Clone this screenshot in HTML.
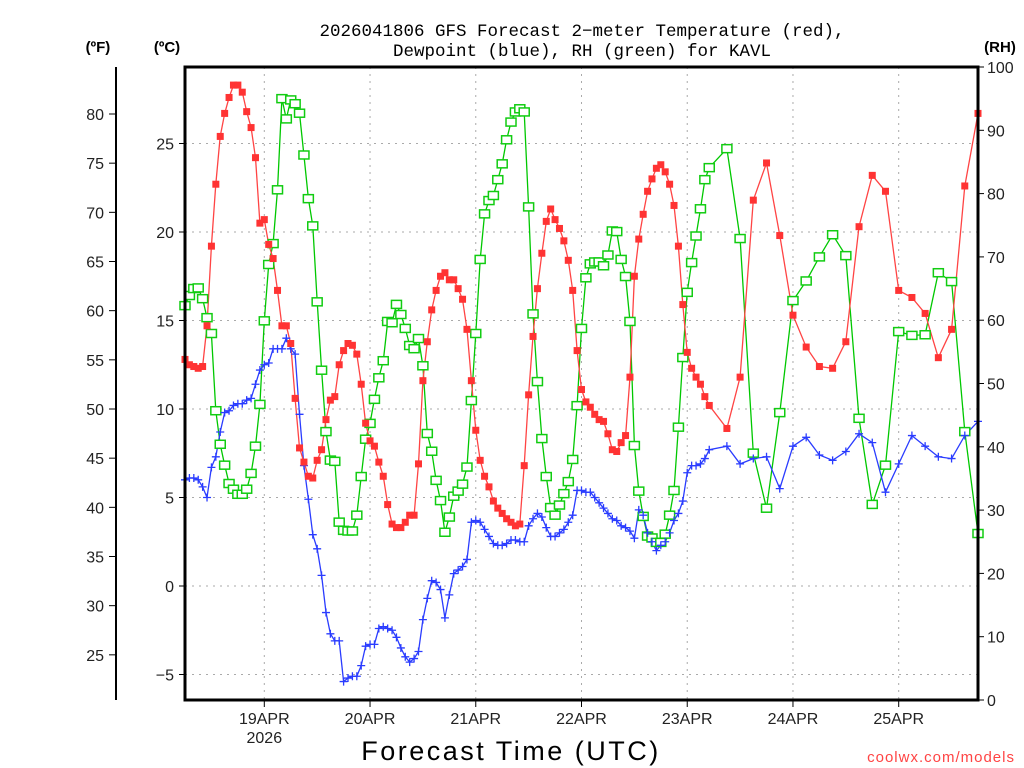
<!DOCTYPE html>
<html><head><meta charset="utf-8"><style>
html,body{margin:0;padding:0;background:#fff;width:1024px;height:768px;overflow:hidden}
svg text{font-family:"Liberation Sans",sans-serif}
</style></head><body>
<svg id="chart" width="1024" height="768" viewBox="0 0 1024 768" xmlns="http://www.w3.org/2000/svg">
<rect width="1024" height="768" fill="#fff"/>
<g id="grid"></g>
<g id="series"></g>
<g id="axes"></g>
<text x="582" y="36" font-size="17.5" text-anchor="middle" style="font-family:'Liberation Mono',monospace">2026041806 GFS Forecast 2−meter Temperature (red),</text>
<text x="582" y="56" font-size="17.5" text-anchor="middle" style="font-family:'Liberation Mono',monospace">Dewpoint (blue), RH (green) for KAVL</text>
<text x="98" y="52" font-size="15" font-weight="bold" text-anchor="middle">(ºF)</text>
<text x="167" y="52" font-size="15" font-weight="bold" text-anchor="middle">(ºC)</text>
<text x="1000" y="52" font-size="15" font-weight="bold" text-anchor="middle">(RH)</text>
<text x="511" y="760" font-size="27" text-anchor="middle" letter-spacing="2.5">Forecast Time (UTC)</text>
<text x="1015" y="762" font-size="15" fill="#f44" text-anchor="end" letter-spacing="1">coolwx.com/models</text>
</svg>
<script>
// hourly forecast hours 0..119 then 3-hourly 123..180 (hour 0 = 18Z 18APR)
const hours=[];for(let h=0;h<120;h++)hours.push(h);for(let h=123;h<=180;h+=3)hours.push(h);
const tempC=[12.8,12.5,12.4,12.3,12.4,14.7,19.2,22.7,25.4,26.7,27.6,28.3,28.3,27.9,26.8,25.9,24.2,20.5,20.7,19.3,18.5,16.7,14.7,14.7,13.7,10.6,7.8,7.0,6.2,6.1,7.1,7.7,9.4,10.5,10.7,12.5,13.3,13.7,13.6,13.1,11.4,9.2,8.2,7.9,7.0,6.2,4.6,
3.5,3.3,3.3,3.6,4.0,4.0,6.9,11.6,13.8,15.6,16.7,17.5,17.7,17.3,17.3,16.8,16.2,14.5,11.6,8.8,7.1,6.2,5.6,4.8,4.4,4.1,3.8,3.6,3.4,3.5,6.8,10.8,14.1,16.8,18.8,20.6,21.3,20.7,20.2,19.5,18.4,16.7,13.3,11.1,10.4,
10.1,9.7,9.4,9.3,8.6,7.7,7.6,8.1,8.5,11.8,17.5,19.6,21.0,22.3,23.0,23.6,23.8,23.4,22.7,21.5,19.2,15.9,13.2,12.3,11.8,11.4,10.7,10.2,
8.9,11.8,21.8,23.9,19.8,15.3,13.5,12.4,12.3,13.8,20.3,23.2,22.3,16.7,16.3,15.4,12.9,14.5,22.6,26.7];
const dewC=[6.0,6.1,6.1,6.0,5.6,5.0,6.7,7.3,8.7,9.8,9.9,10.2,10.3,10.3,10.5,10.6,11.4,12.2,12.5,12.6,13.4,13.4,13.4,14.0,13.4,13.1,9.7,6.8,4.9,2.9,2.1,0.6,-1.5,-2.7,-3.1,-3.1,-5.4,-5.2,-5.1,-5.1,-4.5,-3.4,-3.3,-3.3,-2.4,-2.3,-2.4,
-2.5,-2.9,-3.5,-4.0,-4.3,-4.1,-3.7,-1.9,-0.7,0.3,0.2,-0.2,-1.8,-0.5,0.7,0.9,1.1,1.5,3.6,3.7,3.6,3.2,2.8,2.4,2.3,2.3,2.4,2.6,2.6,2.5,2.5,3.4,3.8,4.1,3.9,3.3,2.8,2.8,3.0,3.2,3.6,4.0,5.4,5.4,5.3,5.3,
5.0,4.7,4.4,4.1,3.8,3.7,3.4,3.3,3.1,2.7,4.3,4.0,3.0,2.5,2.0,2.3,2.5,3.0,3.7,4.1,4.8,6.4,6.8,6.8,6.9,7.2,7.7,7.9,
6.9,7.2,7.3,5.5,7.9,8.4,7.4,7.1,7.6,8.6,8.1,5.3,6.9,8.5,7.9,7.3,7.2,8.5,9.3,5.9];
const rhPct=[62.3,63.9,65.0,65.1,63.4,60.4,57.9,45.7,40.4,37.1,34.2,33.3,32.5,32.5,33.3,35.8,40.1,46.7,59.9,68.8,72.1,80.6,95.0,91.8,94.8,94.2,92.7,86.1,79.2,74.9,62.9,52.1,42.4,37.9,37.7,28.1,26.8,26.7,26.7,29.2,35.3,41.2,43.7,47.5,50.9,53.6,59.8,
59.6,62.5,60.9,58.7,56.0,55.5,57.1,52.8,42.1,39.3,34.7,31.5,26.5,28.9,32.2,33.0,34.1,36.8,47.3,57.9,69.6,76.8,78.9,79.7,82.2,84.7,88.5,91.3,92.9,93.4,92.9,77.9,61.0,50.3,41.3,35.3,30.4,29.2,30.8,32.6,34.5,38.0,46.5,58.7,66.7,68.9,
69.2,69.2,68.6,70.3,74.1,74.0,69.6,66.9,59.8,40.2,33.0,29.0,25.9,25.6,24.9,24.9,26.2,29.2,33.1,43.1,54.1,64.4,69.1,73.3,77.6,82.2,84.1,
87.1,72.9,39.0,30.3,45.4,63.1,66.2,70.0,73.5,70.2,44.5,30.9,37.1,58.2,57.6,57.7,67.5,66.1,42.4,26.3];
const celsiusTicks=[25,20,15,10,5,0,-5];
const fahrenheitTicks=[80,75,70,65,60,55,50,45,40,35,30,25];
const rhTicks=[0,10,20,30,40,50,60,70,80,90,100];
const dayHours=[18,42,66,90,114,138,162];
const dayLabels=["19APR","20APR","21APR","22APR","23APR","24APR","25APR"];

const NS="http://www.w3.org/2000/svg";
const L=185,R=978,T=67,B=700;
const xS=h=>L+(h/180)*(R-L);
const yC=c=>586-c*17.7;
const yF=f=>yC((f-32)/1.8);
const yR=r=>B-r*(B-T)/100;
function mk(tag,attrs,parent){const e=document.createElementNS(NS,tag);for(const k in attrs)e.setAttribute(k,attrs[k]);parent.appendChild(e);return e;}
const grid=document.getElementById('grid'),series=document.getElementById('series'),axes=document.getElementById('axes');

celsiusTicks.forEach(c=>{
  const g=mk('line',{x1:L,x2:R,y1:yC(c),y2:yC(c),stroke:'#aaa','stroke-width':1,'stroke-dasharray':'2,5'},grid);
  
  
  const t=mk('line',{x1:L-6,x2:L,y1:yC(c),y2:yC(c),stroke:'#000'},axes);
  
  
  const lb=mk('text',{x:L-11,y:yC(c)+6,'font-size':16,'text-anchor':'end',fill:'#222'},axes);
  lb.textContent=c===-5?'−5':String(c);
  
  
});
dayHours.forEach((h,i)=>{
  const g=mk('line',{x1:xS(h),x2:xS(h),y1:T,y2:B,stroke:'#aaa','stroke-width':1,'stroke-dasharray':'2,5'},grid);
  
  
  const t=mk('line',{x1:xS(h),x2:xS(h),y1:B,y2:B+7,stroke:'#000'},axes);
  
  
  const lb=mk('text',{x:xS(h),y:B+24,'font-size':16,'text-anchor':'middle',fill:'#222'},axes);
  lb.textContent=dayLabels[i];
  
  
});
const yr=mk('text',{x:xS(dayHours[0]),y:B+43,'font-size':16,'text-anchor':'middle',fill:'#222'},axes);
yr.textContent='2026';



const fl=mk('line',{x1:116,x2:116,y1:67,y2:B,stroke:'#000','stroke-width':2},axes);


fahrenheitTicks.forEach(f=>{
  const t=mk('line',{x1:109,x2:116,y1:yF(f),y2:yF(f),stroke:'#000'},axes);
  
  
  const lb=mk('text',{x:104,y:yF(f)+6,'font-size':16,'text-anchor':'end',fill:'#222'},axes);
  lb.textContent=String(f);
  
  
});
rhTicks.forEach(r=>{
  const t=mk('line',{x1:R,x2:R+6,y1:yR(r),y2:yR(r),stroke:'#000'},axes);
  
  
  const lb=mk('text',{x:R+9,y:yR(r)+6,'font-size':16,'text-anchor':'start',fill:'#222'},axes);
  lb.textContent=String(r);
  
  
});
const fr=mk('rect',{x:L,y:T,width:R-L,height:B-T,fill:'none',stroke:'#000','stroke-width':3},axes);



function line(vals,yf,color,name){
  const pts=vals.map((v,i)=>xS(hours[i]).toFixed(1)+','+yf(v).toFixed(1)).join(' ');
  const p=mk('polyline',{points:pts,fill:'none',stroke:color,'stroke-width':1.3},series);
  
  
}
line(rhPct,yR,'#00c800','rh-line');
line(dewC,yC,'#2a3cff','dewpoint-line');
line(tempC,yC,'#f44','temperature-line');
rhPct.forEach((v,i)=>{
  const m=mk('rect',{x:xS(hours[i])-5,y:yR(v)-4,width:10,height:8,fill:'#fff',stroke:'#1c1','stroke-width':1.5},series);
  
  
});
dewC.forEach((v,i)=>{
  const x=xS(hours[i]),y=yC(v);
  const m=mk('path',{d:`M${x-4},${y}H${x+4}M${x},${y-4}V${y+4}`,stroke:'#2a3cff','stroke-width':1.3},series);
  
  
});
tempC.forEach((v,i)=>{
  const m=mk('rect',{x:xS(hours[i])-3.5,y:yC(v)-3.5,width:7,height:7,fill:'#f33'},series);
  
  
});
</script>
</body></html>
